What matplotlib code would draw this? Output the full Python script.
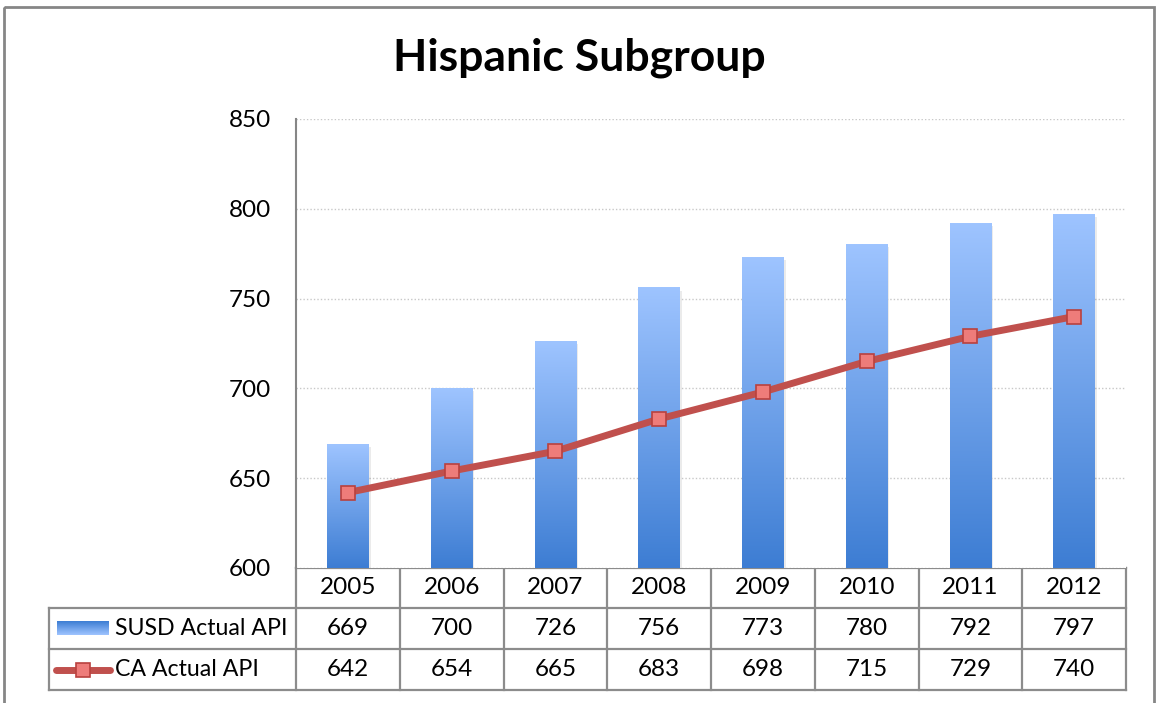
import numpy as np
import matplotlib.pyplot as plt
from matplotlib.colors import LinearSegmentedColormap
from matplotlib.patches import Rectangle

plt.rcParams["font.family"] = ["Lato", "DejaVu Sans"]

# 数据
years = ["2005", "2006", "2007", "2008", "2009", "2010", "2011", "2012"]
susd_api = [669, 700, 726, 756, 773, 780, 792, 797]
ca_api = [642, 654, 665, 683, 698, 715, 729, 740]
series_names = ["SUSD Actual API", "CA Actual API"]
title = "Hispanic Subgroup"

W, H = 1156, 703
fig = plt.figure(figsize=(W / 100, H / 100), dpi=100)

# 绘图区（像素）
px_l, px_r, px_t, px_b = 296, 1126, 119, 568
ax = fig.add_axes([px_l / W, (H - px_b) / H, (px_r - px_l) / W, (px_b - px_t) / H])

bar_cmap = LinearSegmentedColormap.from_list("bar", ["#3D7DD3", "#9EC4FF"])
grad = np.linspace(0, 1, 256).reshape(-1, 1)
x = np.arange(len(years))
bw = 0.4
for xi, v in zip(x, susd_api):
    # 阴影
    ax.add_patch(Rectangle((xi - bw / 2 + 0.02, 600), bw, v - 600 - 1.5,
                           color="#000000", alpha=0.08, zorder=1.5, lw=0))
    ax.imshow(grad, extent=[xi - bw / 2, xi + bw / 2, 600, v], origin="lower",
              aspect="auto", cmap=bar_cmap, zorder=2)

ax.plot(x, ca_api, color="#C0504D", lw=5, zorder=3, solid_capstyle="round")
ax.plot(x, ca_api, ls="none", marker="s", ms=10, mfc="#EE7C7A", mec="#B9413E",
        mew=1.2, zorder=4)

ax.set_xlim(-0.5, len(years) - 0.5)
ax.set_ylim(600, 850)
ax.set_yticks(range(600, 851, 50))
ax.set_xticks([])
ax.tick_params(axis="y", length=0, pad=18, labelsize=17.5)
ax.yaxis.grid(True, ls=(0, (1, 1.5)), color="#C8C8C8", lw=1)
ax.set_axisbelow(True)
for s in ["top", "right", "bottom"]:
    ax.spines[s].set_visible(False)
ax.spines["left"].set_color("#868686")
ax.spines["left"].set_linewidth(1.5)

# 覆盖层：边框与数据表
ov = fig.add_axes([0, 0, 1, 1], zorder=-1)
ov.set_xlim(0, W)
ov.set_ylim(H, 0)
ov.axis("off")
ov.add_patch(Rectangle((4, 7), 1150, 720, fill=False, ec="#868686", lw=2))

ov.text(579, 58, title, ha="center", va="center", fontsize=32, fontweight="bold")

gc = "#8C8C8C"
cw = (px_r - px_l) / len(years)
rows = [568, 608, 649, 690]
tab_l = 49
# 横线
ov.plot([px_l, px_r], [rows[0], rows[0]], color=gc, lw=1.6)
for yy in rows[1:]:
    ov.plot([tab_l, px_r], [yy, yy], color=gc, lw=1.6)
# 竖线
for i in range(len(years) + 1):
    xx = px_l + i * cw
    ov.plot([xx, xx], [rows[0], rows[3]], color=gc, lw=1.6)
ov.plot([tab_l, tab_l], [rows[1], rows[3]], color=gc, lw=1.6)

row_vals = [years, [str(v) for v in susd_api], [str(v) for v in ca_api]]
for r, vals in enumerate(row_vals):
    yc = (rows[r] + rows[r + 1]) / 2
    for i, t in enumerate(vals):
        ov.text(px_l + (i + 0.5) * cw, yc, t, ha="center", va="center", fontsize=17.5)

# 图例标记
y1 = (rows[1] + rows[2]) / 2
lx = np.linspace(0, 1, 64)
ov.imshow(lx.reshape(-1, 1), extent=[57, 109, y1 + 7, y1 - 7], cmap=bar_cmap,
          aspect="auto", zorder=2)
ov.text(115, y1, series_names[0], ha="left", va="center", fontsize=16.7)
y2 = (rows[2] + rows[3]) / 2
ov.plot([56, 110], [y2, y2], color="#C0504D", lw=5, solid_capstyle="round")
ov.plot([83], [y2], marker="s", ms=10, mfc="#EE7C7A", mec="#B9413E", mew=1.2)
ov.text(115, y2, series_names[1], ha="left", va="center", fontsize=16.7)

fig.savefig("out.png", dpi=100)
